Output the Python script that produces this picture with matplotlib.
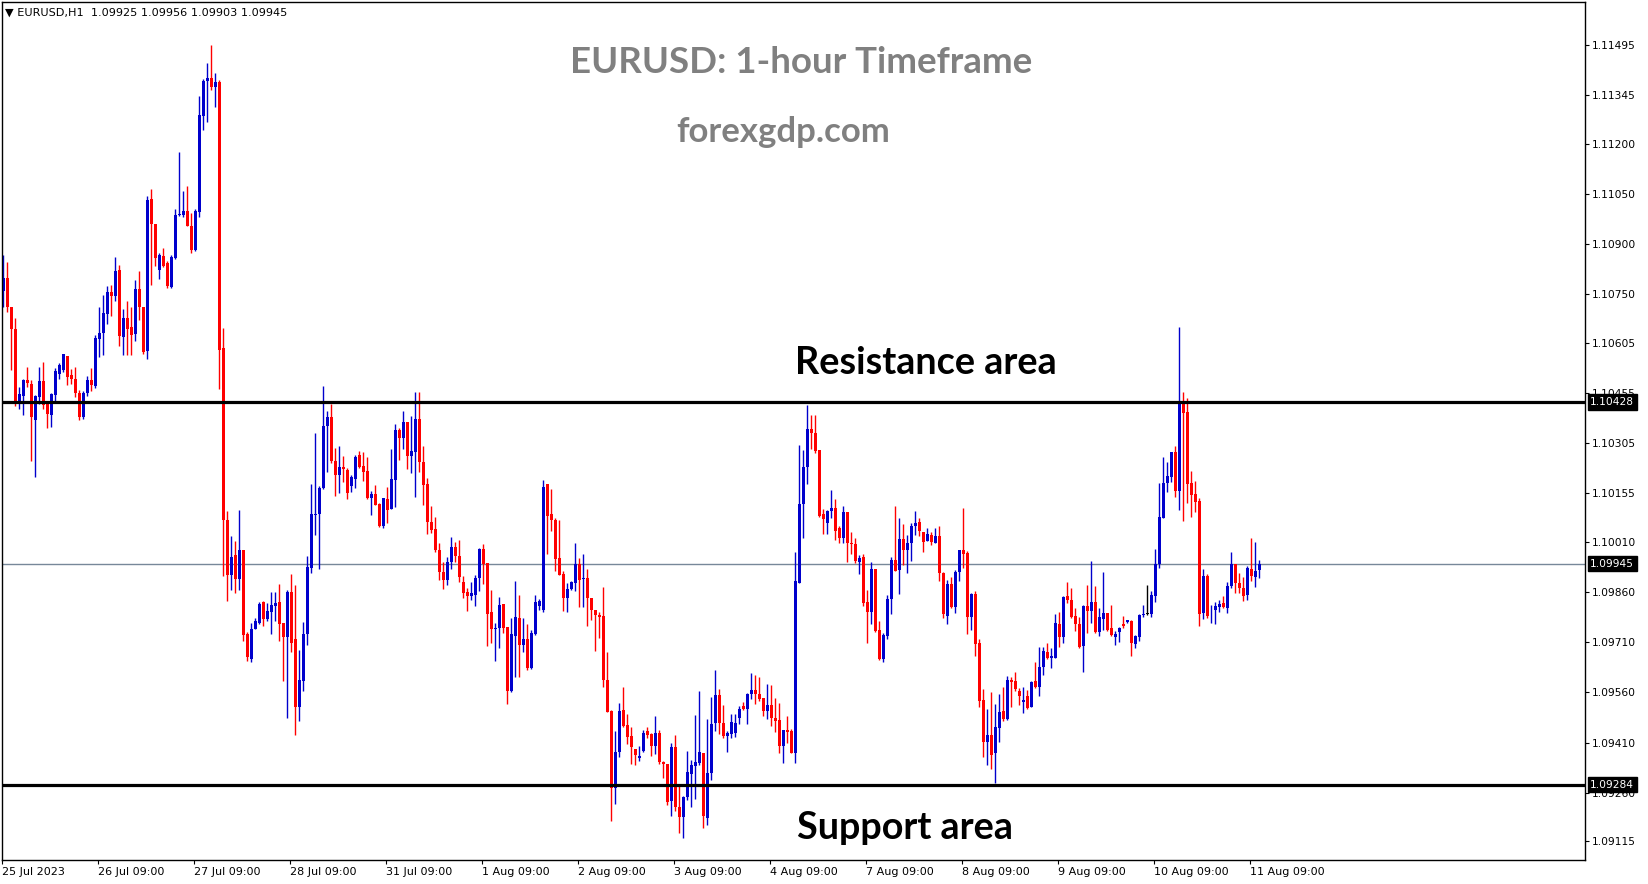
import matplotlib
matplotlib.use("Agg")
import matplotlib.pyplot as plt
from matplotlib import transforms
import numpy as np

# hourly EURUSD candles, 25 Jul 09:00 .. 11 Aug 11:00
opens = [
    1.10760, 1.10798, 1.10711, 1.10645, 1.10423, 1.10446, 1.10493, 1.10483, 1.10373, 1.10443,
    1.10490, 1.10423, 1.10390, 1.10448, 1.10511, 1.10523, 1.10565, 1.10508, 1.10498, 1.10456,
    1.10383, 1.10455, 1.10493, 1.10476, 1.10616, 1.10633, 1.10691, 1.10758, 1.10746, 1.10823,
    1.10624, 1.10678, 1.10652, 1.10632, 1.10766, 1.10711, 1.10582, 1.11035, 1.10961, 1.10824,
    1.10864, 1.10844, 1.10772, 1.10859, 1.10986, 1.10988, 1.11000, 1.10955, 1.10883, 1.10997,
    1.11282, 1.11388, 1.11397, 1.11370, 1.11384, 1.10589, 1.10074, 1.09911, 1.09971, 1.09899,
    1.09986, 1.09735, 1.09660, 1.09750, 1.09767, 1.09831, 1.09779, 1.09800, 1.09817, 1.09831,
    1.09769, 1.09727, 1.09860, 1.09719, 1.09515, 1.09594, 1.09735, 1.09931, 1.10090, 1.10092,
    1.10170, 1.10355, 1.10382, 1.10253, 1.10210, 1.10233, 1.10225, 1.10178, 1.10198, 1.10270,
    1.10237, 1.10222, 1.10140, 1.10153, 1.10124, 1.10058, 1.10138, 1.10109, 1.10195, 1.10345,
    1.10322, 1.10367, 1.10268, 1.10280, 1.10378, 1.10250, 1.10183, 1.10069, 1.10048, 1.09986,
    1.09920, 1.09895, 1.09950, 1.09995, 1.09969, 1.09891, 1.09861, 1.09849, 1.09851, 1.09901,
    1.09989, 1.09946, 1.09799, 1.09749, 1.09752, 1.09824, 1.09755, 1.09563, 1.09730, 1.09782,
    1.09702, 1.09720, 1.09632, 1.09735, 1.09817, 1.09805, 1.10183, 1.10093, 1.10076, 1.09961,
    1.09914, 1.09841, 1.09868, 1.09888, 1.09944, 1.09899, 1.09902, 1.09842, 1.09807, 1.09792,
    1.09787, 1.09598, 1.09505, 1.09274, 1.09381, 1.09508, 1.09463, 1.09430, 1.09392, 1.09364,
    1.09384, 1.09446, 1.09436, 1.09399, 1.09438, 1.09352, 1.09346, 1.09234, 1.09397, 1.09217,
    1.09189, 1.09246, 1.09316, 1.09341, 1.09348, 1.09380, 1.09186, 1.09318, 1.09468, 1.09552,
    1.09470, 1.09431, 1.09435, 1.09438, 1.09483, 1.09520, 1.09510, 1.09554, 1.09567, 1.09555,
    1.09542, 1.09503, 1.09523, 1.09483, 1.09478, 1.09400, 1.09448, 1.09446, 1.09378, 1.09888,
    1.10122, 1.10233, 1.10347, 1.10337, 1.10285, 1.10092, 1.10067, 1.10103, 1.10110, 1.10052,
    1.10023, 1.10098, 1.10008, 1.10004, 1.09951, 1.09964, 1.09829, 1.09801, 1.09929, 1.09747,
    1.09660, 1.09730, 1.09839, 1.09956, 1.09926, 1.10019, 1.09986, 1.10006, 1.10058, 1.10068,
    1.10040, 1.10014, 1.10032, 1.10008, 1.10027, 1.09918, 1.09789, 1.09884, 1.09816, 1.09921,
    1.09986, 1.09978, 1.09786, 1.09854, 1.09709, 1.09537, 1.09413, 1.09433, 1.09380, 1.09455,
    1.09504, 1.09480, 1.09597, 1.09594, 1.09564, 1.09532, 1.09549, 1.09517, 1.09594, 1.09575,
    1.09635, 1.09682, 1.09664, 1.09664, 1.09765, 1.09727, 1.09847, 1.09837, 1.09787, 1.09764,
    1.09700, 1.09817, 1.09802, 1.09830, 1.09742, 1.09780, 1.09797, 1.09752, 1.09727, 1.09740,
    1.09765, 1.09770, 1.09772, 1.09705, 1.09727, 1.09792, 1.09794, 1.09794, 1.09848, 1.09943,
    1.10082, 1.10185, 1.10205, 1.10280, 1.10163, 1.10421, 1.10399, 1.10185, 1.10153, 1.10132,
    1.09798, 1.09908, 1.09784, 1.09806, 1.09814, 1.09828, 1.09813, 1.09879, 1.09943, 1.09886,
    1.09873, 1.09851, 1.09929, 1.09906, 1.09925,
]
highs = [
    1.10868, 1.10846, 1.10711, 1.10678, 1.10473, 1.10498, 1.10533, 1.10495, 1.10450, 1.10533,
    1.10548, 1.10423, 1.10455, 1.10530, 1.10545, 1.10571, 1.10565, 1.10526, 1.10533, 1.10463,
    1.10460, 1.10505, 1.10530, 1.10628, 1.10713, 1.10748, 1.10775, 1.10778, 1.10861, 1.10838,
    1.10705, 1.10729, 1.10711, 1.10793, 1.10821, 1.10711, 1.11045, 1.11066, 1.10961, 1.10873,
    1.10889, 1.10850, 1.10868, 1.11004, 1.11177, 1.11060, 1.11074, 1.10994, 1.11004, 1.11342,
    1.11394, 1.11441, 1.11496, 1.11412, 1.11391, 1.10649, 1.10101, 1.10027, 1.10013, 1.10105,
    1.09986, 1.09742, 1.09769, 1.09782, 1.09831, 1.09834, 1.09827, 1.09860, 1.09860, 1.09884,
    1.09769, 1.09866, 1.09914, 1.09881, 1.09687, 1.09770, 1.09968, 1.10183, 1.10337, 1.10177,
    1.10476, 1.10401, 1.10422, 1.10290, 1.10297, 1.10267, 1.10230, 1.10210, 1.10270, 1.10282,
    1.10280, 1.10263, 1.10163, 1.10180, 1.10127, 1.10142, 1.10175, 1.10288, 1.10363, 1.10350,
    1.10401, 1.10367, 1.10387, 1.10457, 1.10457, 1.10297, 1.10202, 1.10116, 1.10083, 1.10008,
    1.09950, 1.09965, 1.10024, 1.10011, 1.10016, 1.09908, 1.09871, 1.09891, 1.09911, 1.09993,
    1.10004, 1.09946, 1.09866, 1.09767, 1.09846, 1.09824, 1.09755, 1.09782, 1.09893, 1.09851,
    1.09782, 1.09765, 1.09747, 1.09851, 1.09839, 1.10195, 1.10183, 1.10168, 1.10081, 1.10074,
    1.09923, 1.09888, 1.09893, 1.10008, 1.09963, 1.09974, 1.09930, 1.09842, 1.09807, 1.09800,
    1.09874, 1.09680, 1.09508, 1.09445, 1.09528, 1.09576, 1.09495, 1.09456, 1.09392, 1.09401,
    1.09448, 1.09458, 1.09438, 1.09489, 1.09448, 1.09354, 1.09346, 1.09409, 1.09433, 1.09279,
    1.09249, 1.09386, 1.09359, 1.09491, 1.09564, 1.09380, 1.09481, 1.09545, 1.09627, 1.09569,
    1.09523, 1.09446, 1.09496, 1.09496, 1.09518, 1.09532, 1.09557, 1.09617, 1.09612, 1.09605,
    1.09542, 1.09585, 1.09582, 1.09544, 1.09528, 1.09448, 1.09490, 1.09450, 1.09979, 1.10300,
    1.10285, 1.10419, 1.10389, 1.10389, 1.10285, 1.10108, 1.10105, 1.10165, 1.10138, 1.10057,
    1.10117, 1.10100, 1.10041, 1.10021, 1.09971, 1.09974, 1.09866, 1.09951, 1.09929, 1.09774,
    1.09737, 1.09851, 1.09964, 1.10117, 1.10082, 1.10063, 1.10031, 1.10067, 1.10102, 1.10082,
    1.10040, 1.10052, 1.10040, 1.10052, 1.10057, 1.09921, 1.09896, 1.09906, 1.09926, 1.09986,
    1.10112, 1.09983, 1.09856, 1.09863, 1.09719, 1.09570, 1.09510, 1.09562, 1.09525, 1.09555,
    1.09577, 1.09609, 1.09607, 1.09622, 1.09574, 1.09575, 1.09567, 1.09595, 1.09652, 1.09695,
    1.09697, 1.09709, 1.09692, 1.09794, 1.09799, 1.09849, 1.09889, 1.09872, 1.09812, 1.09784,
    1.09822, 1.09882, 1.09953, 1.09879, 1.09812, 1.09919, 1.09797, 1.09822, 1.09744, 1.09757,
    1.09789, 1.09777, 1.09775, 1.09732, 1.09794, 1.09822, 1.09882, 1.09862, 1.09989, 1.10187,
    1.10263, 1.10250, 1.10280, 1.10296, 1.10651, 1.10459, 1.10441, 1.10222, 1.10192, 1.10142,
    1.09929, 1.09914, 1.09821, 1.09831, 1.09836, 1.09848, 1.09891, 1.09981, 1.09943, 1.09918,
    1.09906, 1.09939, 1.10022, 1.10010, 1.09956,
]
lows = [
    1.10713, 1.10698, 1.10523, 1.10416, 1.10406, 1.10388, 1.10473, 1.10253, 1.10205, 1.10423,
    1.10408, 1.10350, 1.10353, 1.10428, 1.10498, 1.10518, 1.10478, 1.10481, 1.10443, 1.10373,
    1.10378, 1.10446, 1.10461, 1.10470, 1.10563, 1.10568, 1.10661, 1.10685, 1.10730, 1.10595,
    1.10570, 1.10570, 1.10570, 1.10611, 1.10673, 1.10573, 1.10556, 1.10778, 1.10836, 1.10795,
    1.10833, 1.10768, 1.10768, 1.10857, 1.10984, 1.10982, 1.10955, 1.10873, 1.10879, 1.10980,
    1.11241, 1.11265, 1.11362, 1.11309, 1.10468, 1.09908, 1.09832, 1.09867, 1.09856, 1.09866,
    1.09714, 1.09655, 1.09650, 1.09749, 1.09764, 1.09759, 1.09774, 1.09735, 1.09772, 1.09714,
    1.09594, 1.09485, 1.09682, 1.09433, 1.09476, 1.09565, 1.09702, 1.09918, 1.10031, 1.09929,
    1.10168, 1.10220, 1.10247, 1.10147, 1.10157, 1.10190, 1.10138, 1.10160, 1.10172, 1.10232,
    1.10192, 1.10138, 1.10091, 1.10119, 1.10054, 1.10053, 1.10066, 1.10108, 1.10113, 1.10255,
    1.10288, 1.10228, 1.10215, 1.10145, 1.10220, 1.10121, 1.10034, 1.10036, 1.09981, 1.09895,
    1.09870, 1.09880, 1.09930, 1.09950, 1.09890, 1.09841, 1.09802, 1.09836, 1.09817, 1.09863,
    1.09883, 1.09699, 1.09709, 1.09655, 1.09692, 1.09737, 1.09525, 1.09560, 1.09607, 1.09605,
    1.09680, 1.09627, 1.09630, 1.09732, 1.09807, 1.09799, 1.09974, 1.10044, 1.09923, 1.09911,
    1.09802, 1.09799, 1.09866, 1.09863, 1.09814, 1.09814, 1.09760, 1.09777, 1.09683, 1.09724,
    1.09575, 1.09500, 1.09177, 1.09227, 1.09367, 1.09458, 1.09406, 1.09347, 1.09344, 1.09356,
    1.09382, 1.09425, 1.09369, 1.09376, 1.09346, 1.09304, 1.09224, 1.09192, 1.09204, 1.09140,
    1.09125, 1.09237, 1.09216, 1.09241, 1.09343, 1.09154, 1.09164, 1.09298, 1.09446, 1.09435,
    1.09423, 1.09383, 1.09425, 1.09428, 1.09465, 1.09506, 1.09465, 1.09540, 1.09525, 1.09535,
    1.09490, 1.09480, 1.09460, 1.09443, 1.09378, 1.09350, 1.09408, 1.09378, 1.09348, 1.09888,
    1.10023, 1.10182, 1.10287, 1.10277, 1.10085, 1.10033, 1.10033, 1.10082, 1.10016, 1.10008,
    1.10006, 1.09951, 1.09973, 1.09948, 1.09914, 1.09819, 1.09707, 1.09764, 1.09740, 1.09657,
    1.09652, 1.09719, 1.09794, 1.09924, 1.09854, 1.09941, 1.09918, 1.09954, 1.10031, 1.10028,
    1.09981, 1.10013, 1.10001, 1.10006, 1.09893, 1.09783, 1.09764, 1.09811, 1.09798, 1.09893,
    1.09933, 1.09735, 1.09746, 1.09669, 1.09517, 1.09368, 1.09343, 1.09331, 1.09290, 1.09413,
    1.09475, 1.09477, 1.09517, 1.09565, 1.09522, 1.09499, 1.09510, 1.09515, 1.09572, 1.09550,
    1.09613, 1.09660, 1.09633, 1.09664, 1.09697, 1.09707, 1.09827, 1.09782, 1.09744, 1.09692,
    1.09620, 1.09737, 1.09769, 1.09737, 1.09729, 1.09747, 1.09745, 1.09730, 1.09702, 1.09712,
    1.09754, 1.09767, 1.09670, 1.09692, 1.09715, 1.09785, 1.09792, 1.09784, 1.09829, 1.09931,
    1.10080, 1.10160, 1.10190, 1.10145, 1.10105, 1.10073, 1.10125, 1.10085, 1.10100, 1.09759,
    1.09779, 1.09781, 1.09769, 1.09764, 1.09801, 1.09811, 1.09796, 1.09871, 1.09856, 1.09856,
    1.09834, 1.09836, 1.09894, 1.09876, 1.09903,
]
closes = [
    1.10798, 1.10713, 1.10645, 1.10423, 1.10451, 1.10493, 1.10485, 1.10383, 1.10446, 1.10490,
    1.10418, 1.10391, 1.10451, 1.10520, 1.10538, 1.10571, 1.10503, 1.10496, 1.10455, 1.10383,
    1.10456, 1.10493, 1.10478, 1.10620, 1.10633, 1.10693, 1.10758, 1.10746, 1.10820, 1.10625,
    1.10678, 1.10647, 1.10628, 1.10766, 1.10711, 1.10579, 1.11032, 1.10959, 1.10859, 1.10868,
    1.10836, 1.10774, 1.10862, 1.10988, 1.10990, 1.11000, 1.10955, 1.10883, 1.11000, 1.11286,
    1.11388, 1.11397, 1.11370, 1.11384, 1.10585, 1.10074, 1.09911, 1.09964, 1.09899, 1.09986,
    1.09732, 1.09667, 1.09749, 1.09774, 1.09825, 1.09779, 1.09804, 1.09822, 1.09828, 1.09765,
    1.09727, 1.09860, 1.09707, 1.09515, 1.09597, 1.09735, 1.09934, 1.10092, 1.10092, 1.10170,
    1.10355, 1.10382, 1.10253, 1.10210, 1.10233, 1.10227, 1.10157, 1.10205, 1.10263, 1.10235,
    1.10220, 1.10140, 1.10153, 1.10121, 1.10058, 1.10142, 1.10106, 1.10198, 1.10343, 1.10322,
    1.10368, 1.10268, 1.10282, 1.10378, 1.10250, 1.10180, 1.10068, 1.10046, 1.09986, 1.09920,
    1.09895, 1.09950, 1.09995, 1.09969, 1.09906, 1.09858, 1.09849, 1.09858, 1.09901, 1.09989,
    1.09944, 1.09795, 1.09749, 1.09752, 1.09822, 1.09754, 1.09563, 1.09735, 1.09785, 1.09702,
    1.09720, 1.09634, 1.09737, 1.09829, 1.09834, 1.10173, 1.10086, 1.10074, 1.09959, 1.09911,
    1.09843, 1.09869, 1.09891, 1.09944, 1.09896, 1.09902, 1.09842, 1.09805, 1.09790, 1.09784,
    1.09596, 1.09500, 1.09274, 1.09382, 1.09505, 1.09461, 1.09428, 1.09396, 1.09372, 1.09371,
    1.09438, 1.09433, 1.09399, 1.09438, 1.09351, 1.09346, 1.09231, 1.09397, 1.09217, 1.09189,
    1.09247, 1.09321, 1.09344, 1.09352, 1.09383, 1.09192, 1.09318, 1.09466, 1.09552, 1.09468,
    1.09431, 1.09440, 1.09471, 1.09470, 1.09510, 1.09510, 1.09555, 1.09567, 1.09555, 1.09540,
    1.09503, 1.09523, 1.09483, 1.09475, 1.09400, 1.09448, 1.09441, 1.09380, 1.09893, 1.10123,
    1.10233, 1.10346, 1.10336, 1.10283, 1.10088, 1.10077, 1.10103, 1.10110, 1.10043, 1.10023,
    1.10098, 1.10006, 1.10003, 1.09954, 1.09961, 1.09828, 1.09801, 1.09929, 1.09745, 1.09660,
    1.09732, 1.09839, 1.09956, 1.09924, 1.10019, 1.09986, 1.10008, 1.10057, 1.10067, 1.10043,
    1.10011, 1.10035, 1.10011, 1.10027, 1.09918, 1.09793, 1.09884, 1.09816, 1.09919, 1.09986,
    1.09974, 1.09786, 1.09854, 1.09705, 1.09535, 1.09413, 1.09433, 1.09373, 1.09456, 1.09500,
    1.09480, 1.09597, 1.09592, 1.09570, 1.09550, 1.09537, 1.09512, 1.09592, 1.09575, 1.09635,
    1.09684, 1.09664, 1.09669, 1.09769, 1.09727, 1.09844, 1.09837, 1.09784, 1.09764, 1.09695,
    1.09817, 1.09802, 1.09830, 1.09740, 1.09785, 1.09797, 1.09747, 1.09732, 1.09735, 1.09752,
    1.09759, 1.09775, 1.09707, 1.09729, 1.09792, 1.09794, 1.09794, 1.09852, 1.09943, 1.10083,
    1.10187, 1.10207, 1.10280, 1.10163, 1.10422, 1.10394, 1.10183, 1.10150, 1.10130, 1.09794,
    1.09908, 1.09788, 1.09786, 1.09818, 1.09825, 1.09814, 1.09878, 1.09943, 1.09886, 1.09871,
    1.09849, 1.09931, 1.09909, 1.09924, 1.09945,
]

date_labels = ["25 Jul 2023", "26 Jul 09:00", "27 Jul 09:00", "28 Jul 09:00", "31 Jul 09:00",
               "1 Aug 09:00", "2 Aug 09:00", "3 Aug 09:00", "4 Aug 09:00", "7 Aug 09:00",
               "8 Aug 09:00", "9 Aug 09:00", "10 Aug 09:00", "11 Aug 09:00"]
date_candles = [0, 24, 48, 72, 96, 120, 144, 168, 192, 216, 240, 264, 288, 312]

price_ticks = [1.11495, 1.11345, 1.11200, 1.11050, 1.10900, 1.10750, 1.10605, 1.10455, 1.10305,
               1.10155, 1.10010, 1.09860, 1.09710, 1.09560, 1.09410, 1.09260, 1.09115]

resistance = 1.10428
support = 1.09284
bid = 1.09945
header = "\u25bc EURUSD,H1  1.09925 1.09956 1.09903 1.09945"

o = np.array(opens)
h = np.array(highs)
l = np.array(lows)
c = np.array(closes)
x = np.arange(len(o))

colors = np.where(c > o, "#0000CC", np.where(c < o, "#FF0000", "#000000"))

fig = plt.figure(figsize=(16.49, 8.84), dpi=100)
ax = fig.add_axes([2 / 1649, 24 / 884, 1583 / 1649, 858 / 884])

ax.axhline(bid, color="#778899", lw=1, zorder=1)
ax.vlines(x, l, h, colors=colors, lw=1.0, zorder=2)
ax.bar(x, np.maximum(np.abs(c - o), 0.00002), bottom=np.minimum(o, c), width=0.76,
       color=colors, lw=0, zorder=2)
ax.axhline(resistance, color="black", lw=2.3, zorder=3)
ax.axhline(support, color="black", lw=2.3, zorder=3)

ax.set_xlim(-0.33, 395.4)
ax.set_ylim(1.09059, 1.11624)

ax.yaxis.tick_right()
ax.set_yticks(price_ticks)
ax.set_yticklabels([f"{p:.5f}" for p in price_ticks])
ax.set_xticks([i - 0.35 for i in date_candles])
ax.set_xticklabels(date_labels)
for t in ax.get_xticklabels():
    t.set_horizontalalignment("left")
ax.tick_params(axis="both", direction="out", length=3, width=0.8, pad=2, labelsize=7.7,
               colors="black")
ax.tick_params(axis="x", labelsize=8)
for s in ax.spines.values():
    s.set_linewidth(1)
    s.set_color("black")

trans = transforms.blended_transform_factory(ax.transAxes, ax.transData)
for v in [resistance, support, bid]:
    ax.text(1.0033, v, f"{v:.5f}", transform=trans, ha="left", va="center", fontsize=7.7,
            color="white", zorder=5,
            bbox=dict(boxstyle="square,pad=0.25", fc="black", ec="black"))

ax.text(0.002, 0.988, header, transform=ax.transAxes, ha="left", va="center", fontsize=8.1,
        color="black")

ax.text(0.5047, 0.930, "EURUSD: 1-hour Timeframe", transform=ax.transAxes, ha="center",
        va="center", fontsize=26.4, fontweight="bold", family="Lato", color="#808080")
ax.text(0.4937, 0.849, "forexgdp.com", transform=ax.transAxes, ha="center", va="center",
        fontsize=25, fontweight="bold", family="Lato", color="#808080")
ax.text(0.5834, 0.579, "Resistance area", transform=ax.transAxes, ha="center", va="center",
        fontsize=27.2, fontweight="bold", family="Lato", color="black")
ax.text(0.5707, 0.037, "Support area", transform=ax.transAxes, ha="center", va="center",
        fontsize=27.2, fontweight="bold", family="Lato", color="black")

fig.savefig("out.png", dpi=100, facecolor="white")
